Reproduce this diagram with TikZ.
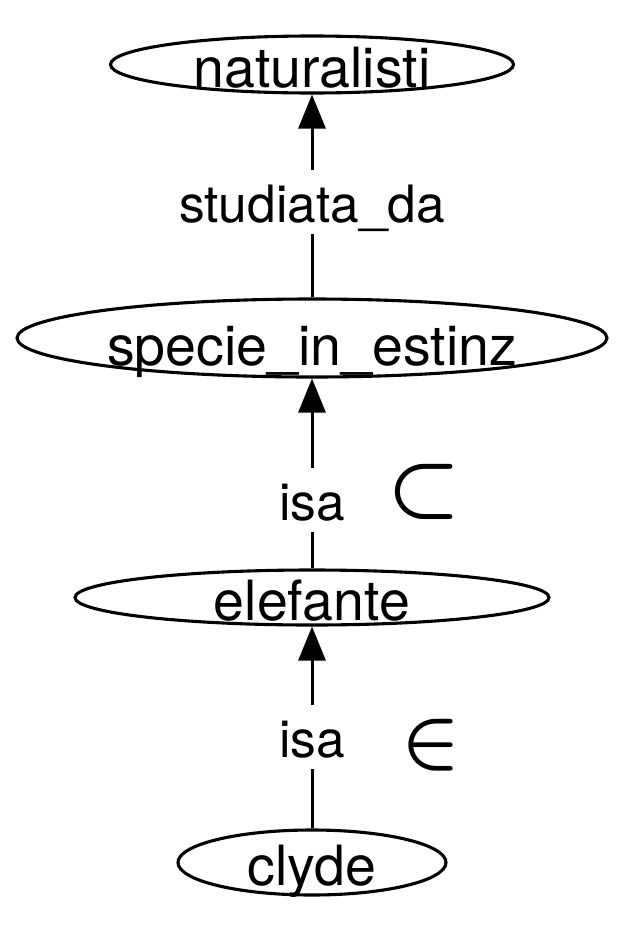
\documentclass[tikz,border=0pt]{standalone}
\usepackage{fontspec}
\setmainfont{TeX Gyre Heros}
\usetikzlibrary{shapes.geometric,arrows.meta}
\newcommand{\enttxt}[2]{\makebox[0pt]{\raisebox{-#2pt}[0pt][0pt]{#1}}}
\tikzset{
  ent/.style={draw, ellipse, line width=3.1pt, inner sep=0pt,
    text height=0pt, text depth=0pt, font=\fontsize{55.5}{60}\selectfont},
  lab/.style={inner sep=0pt, anchor=base, text height=51.5pt, text depth=11.5pt,
    font=\fontsize{51.5}{56}\selectfont},
  sym/.style={inner sep=0pt},
  edge/.style={line width=3pt},
  arr/.style={line width=3pt, -{Triangle[length=34pt,width=27pt]}}
}
\begin{document}
\begin{tikzpicture}[x=1pt, y=-1pt]
\useasboundingbox (0,0) rectangle (632,938);
\node[ent, minimum width=403pt, minimum height=57pt] (nat) at (312,64.5) {\enttxt{naturalisti}{22.5}};
\node[ent, minimum width=590pt, minimum height=78pt] (spe) at (312,338) {\enttxt{specie\_in\_estinz}{27}};
\node[ent, minimum width=474pt, minimum height=55pt] (ele) at (312,597.5) {\enttxt{elefante}{22.5}};
\node[ent, minimum width=268pt, minimum height=65pt] (cly) at (312,862.5) {\enttxt{clyde}{22.5}};
\node[lab] (l1) at (312,222) {studiata\_da};
\node[lab] (l2) at (312,520) {isa};
\node[lab] (l3) at (312,757) {isa};
\node[sym] (sub) at (424,492) {\scalebox{8.2}{\boldmath$\subset$}};
\node[sym] (in) at (431,745) {\scalebox{7.7}{\boldmath$\in$}};
\draw[edge] (spe) -- (l1);
\draw[arr] (l1) -- (nat);
\draw[edge] (ele) -- (l2);
\draw[arr] (l2) -- (spe);
\draw[edge] (cly) -- (l3);
\draw[arr] (l3) -- (ele);
\end{tikzpicture}
\end{document}
